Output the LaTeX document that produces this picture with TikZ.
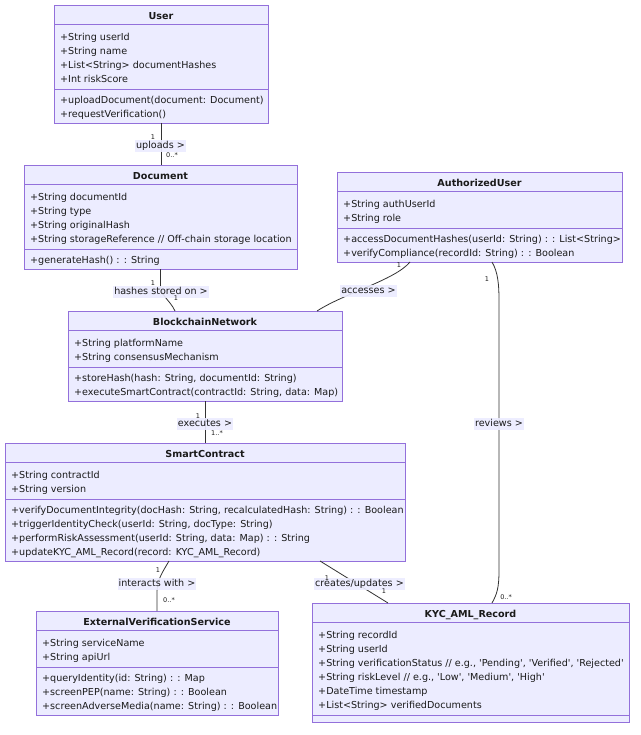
\documentclass[tikz,border=0pt]{standalone}
\usepackage{fontspec}
\setmainfont{DejaVu Sans}
\usetikzlibrary{calc}
\definecolor{boxfill}{HTML}{ECECFF}
\definecolor{boxline}{HTML}{9370DB}
\definecolor{edgecol}{HTML}{333333}
\definecolor{txtcol}{HTML}{1A1A1A}
\newcommand{\umlclass}[9]{%
  \pgfmathsetmacro{\ucA}{#4+19}%
  \pgfmathsetmacro{\ucB}{#4+42+14*(#6-1)}%
  \pgfmathsetmacro{\ucH}{(#8>0)*(\ucB+20+14*(#8-1)) + (#8<1)*(\ucB+7) - #4}%
  \pgfmathsetmacro{\ucW}{#3-#2}%
  \node[classbox, minimum width=\ucW pt, minimum height=\ucH pt] (#1) at (#2,#4) {};
  \node[classtitle] (#1-t) at ({(#2+#3)/2},#4+10) {#5};
  \draw[classline] (#2,\ucA) -- (#3,\ucA);
  \draw[classline] (#2,\ucB) -- (#3,\ucB);
  \foreach \mtxt [count=\i from 0] in {#7} {\node[member] (#1-a\i) at (#2+6,#4+31+14*\i) {\mtxt};}
  \ifnum#8>0
    \foreach \mtxt [count=\i from 0] in {#9} {\node[member] (#1-m\i) at (#2+6,\ucB+10+14*\i) {\mtxt};}
  \fi
}
\tikzset{
  classbox/.style={draw=boxline, fill=boxfill, line width=0.9pt, anchor=north west, inner sep=0pt, outer sep=0pt},
  classline/.style={draw=boxline, line width=0.9pt},
  classtitle/.style={font=\fontsize{9.6}{12}\selectfont\bfseries, text=txtcol, inner sep=0pt, text height=7.3pt, text depth=2.3pt, yshift=-1.8pt},
  member/.style={font=\fontsize{9.6}{12}\selectfont, text=txtcol, anchor=west, inner sep=0pt, text height=7.3pt, text depth=2.3pt, yshift=-1.8pt},
  edge/.style={draw=edgecol, line width=0.8pt},
  elabel/.style={font=\fontsize{9.6}{12}\selectfont, text=txtcol, fill=boxfill, fill opacity=0.9, text opacity=1, inner sep=1pt, text height=7.3pt, text depth=2.3pt, yshift=-1pt},
  mult/.style={font=\fontsize{6.5}{8}\selectfont, text=txtcol, inner sep=0pt}
}
\begin{document}
\begin{tikzpicture}[x=1pt, y=-1pt]
\useasboundingbox (0,0) rectangle (640,735);
\fill[white] (0,0) rectangle (640,735);

\umlclass{user}{54}{268}{5}{User}{4}{{+String userId},{+String name},{+List<String> documentHashes},{+Int riskScore}}{2}{{+uploadDocument(document: Document)},{+requestVerification()}}

\umlclass{doc}{24}{297}{165}{Document}{4}{{+String documentId},{+String type},{+String originalHash},{+String storageReference // Off-chain storage location}}{1}{{+generateHash() : : String}}

\umlclass{auth}{337}{622}{172}{AuthorizedUser}{2}{{+String authUserId},{+String role}}{2}{{+accessDocumentHashes(userId: String) : : List<String>},{+verifyCompliance(recordId: String) : : Boolean}}

\umlclass{bn}{68}{342}{311}{BlockchainNetwork}{2}{{+String platformName},{+String consensusMechanism}}{2}{{+storeHash(hash: String, documentId: String)},{+executeSmartContract(contractId: String, data: Map)}}

\umlclass{sc}{5}{405}{443}{SmartContract}{2}{{+String contractId},{+String version}}{4}{{+verifyDocumentIntegrity(docHash: String, recalculatedHash: String) : : Boolean},{+triggerIdentityCheck(userId: String, docType: String)},{+performRiskAssessment(userId: String, data: Map) : : String},{+updateKYC\_AML\_Record(record: KYC\_AML\_Record)}}

\umlclass{ext}{36}{278}{611}{ExternalVerificationService}{2}{{+String serviceName},{+String apiUrl}}{3}{{+queryIdentity(id: String) : : Map},{+screenPEP(name: String) : : Boolean},{+screenAdverseMedia(name: String) : : Boolean}}

\umlclass{kyc}{312}{629}{603}{KYC\_AML\_Record}{6}{{+String recordId},{+String userId},{+String verificationStatus // e.g., \textquotesingle Pending\textquotesingle, \textquotesingle Verified\textquotesingle, \textquotesingle Rejected\textquotesingle},{+String riskLevel // e.g., \textquotesingle Low\textquotesingle, \textquotesingle Medium\textquotesingle, \textquotesingle High\textquotesingle},{+DateTime timestamp},{+List<String> verifiedDocuments}}{0}{}

% connectors
\draw[edge] (user.south) -- (user.south |- doc.north);
\draw[edge] (doc.south) -- (160.5,285) .. controls (160.5,296) and (170,300) .. ([xshift=107pt]bn.north west);
\draw[edge] ([xshift=73pt]auth.south west) .. controls (395,280) and (345,293) .. ([xshift=-25pt]bn.north east);
\draw[edge] ([xshift=155pt]auth.south west) .. controls (498,272) and (499,285) .. (499,300) -- (499,570) .. controls (499,588) and (497,594) .. ([xshift=180pt]kyc.north west);
\draw[edge] (bn.south) -- (sc.north);
\draw[edge] ([xshift=164pt]sc.south west) .. controls (162,573) and (157,580) .. (157,592) -- (ext.north);
\draw[edge] ([xshift=315pt]sc.south west) -- ([xshift=76pt]kyc.north west);

% connector labels
\node[elabel] (l1) at (160.5,145) {uploads >};
\node[elabel] (l2) at (161,291) {hashes stored on >};
\node[elabel] (l3) at (368.5,290) {accesses >};
\node[elabel] (l4) at (499,423) {reviews >};
\node[elabel] (l5) at (205,423) {executes >};
\node[elabel] (l6) at (157,583) {interacts with >};
\node[elabel] (l7) at (359.5,583) {creates/updates >};

% multiplicities
\node[mult] (m1a) at (153,137) {1};
\node[mult] (m1b) at (172,155) {0..*};
\node[mult] (m2a) at (153,283) {1};
\node[mult] (m2b) at (176,298) {1};
\node[mult] (m3a) at (399,265) {1};
\node[mult] (m4a) at (487,279) {1};
\node[mult] (m4b) at (506,597) {0..*};
\node[mult] (m5a) at (198,416) {1};
\node[mult] (m5b) at (217,433) {1..*};
\node[mult] (m6a) at (158,570) {1};
\node[mult] (m6b) at (169,600) {0..*};
\node[mult] (m7a) at (327,578) {1};
\node[mult] (m7b) at (384,591) {1};
\end{tikzpicture}
\end{document}
